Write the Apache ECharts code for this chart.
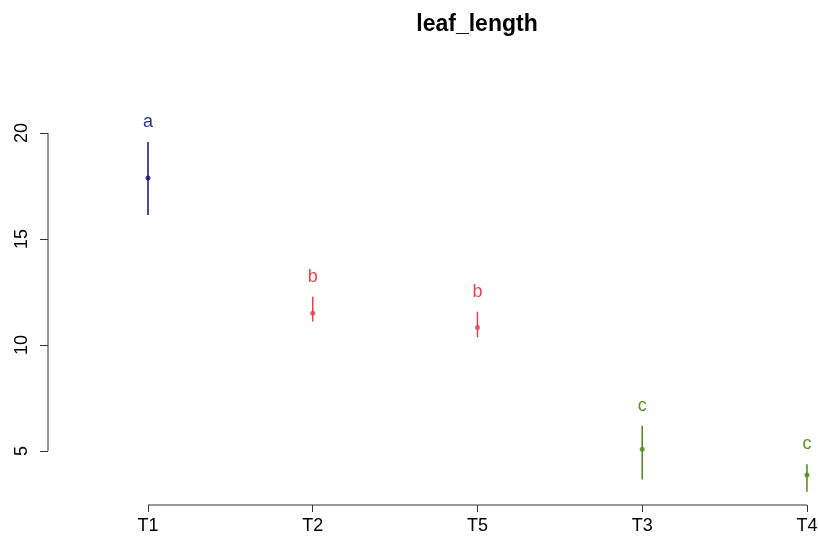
<!DOCTYPE html>
<html>
<head>
<meta charset="utf-8">
<script src="https://cdn.jsdelivr.net/npm/echarts@6/dist/echarts.min.js"></script>
<style>
html,body{margin:0;padding:0;background:#fff;}
#chart{width:818px;height:537px;}
</style>
</head>
<body>
<div id="chart"></div>
<script>
// ---- data ----
const categories = ['T1', 'T2', 'T5', 'T3', 'T4'];
const means = [17.88, 11.50, 10.83, 5.08, 3.87];
const upper = [19.58, 12.28, 11.57, 6.19, 4.37];
const lower = [16.13, 11.10, 10.36, 3.66, 3.08];
const groupLetters = ['a', 'b', 'b', 'c', 'c'];
const yTicks = [5, 10, 15, 20];
const titleText = 'leaf_length';

// ---- styles ----
const letterColors = { a: '#10107a', b: '#e0444e', c: '#4c8a12' };
const letterTextColors = { a: '#35358c', b: '#e5474f', c: '#5a9420' };
const FONT = 'Liberation Sans, Arial, sans-serif';
const X_MIN = 0.393, X_MAX = 5.067;
const Y_MIN = 2.453, Y_MAX = 23.443;
const xTickVals = categories.map((c, i) => i + 1);

const chart = echarts.init(document.getElementById('chart'));

const option = {
  backgroundColor: '#ffffff',
  animation: false,
  graphic: [{
    type: 'text',
    x: 477,
    y: 25,
    style: {
      text: titleText,
      font: 'bold 23px ' + FONT,
      fill: '#000',
      textAlign: 'center',
      textVerticalAlign: 'middle'
    }
  }],
  grid: { left: 48, right: 0, top: 60, bottom: 32, outerBoundsMode: 'none', containLabel: false },
  xAxis: {
    type: 'value',
    min: X_MIN,
    max: X_MAX,
    axisLine: { show: false },
    splitLine: { show: false },
    axisTick: { show: true, customValues: xTickVals, length: 7, lineStyle: { color: '#333', width: 1 } },
    axisLabel: {
      customValues: xTickVals,
      formatter: v => categories[Math.round(v) - 1] || '',
      margin: 12,
      fontFamily: FONT,
      fontSize: 18,
      color: '#000'
    }
  },
  yAxis: {
    type: 'value',
    min: Y_MIN,
    max: Y_MAX,
    axisLine: { show: false },
    splitLine: { show: false },
    axisTick: { show: true, customValues: yTicks, length: 8, lineStyle: { color: '#333', width: 1 } },
    axisLabel: {
      customValues: yTicks,
      rotate: 90,
      margin: 17,
      fontFamily: FONT,
      fontSize: 18,
      color: '#000'
    }
  },
  series: [
    {
      type: 'custom',
      name: 'axes',
      silent: true,
      clip: false,
      data: [[0]],
      renderItem: function (params, api) {
        const y0 = api.coord([X_MIN, yTicks[0]]);
        const y1 = api.coord([X_MIN, yTicks[yTicks.length - 1]]);
        const x0 = api.coord([xTickVals[0], Y_MIN]);
        const x1 = api.coord([xTickVals[xTickVals.length - 1], Y_MIN]);
        return {
          type: 'group',
          children: [
            { type: 'line', shape: { x1: y0[0], y1: y0[1], x2: y1[0], y2: y1[1] }, style: { stroke: '#333', lineWidth: 1 } },
            { type: 'line', shape: { x1: x0[0], y1: x0[1], x2: x1[0], y2: x1[1] }, style: { stroke: '#333', lineWidth: 1 } }
          ]
        };
      }
    },
    {
      type: 'custom',
      name: 'errorbars',
      clip: false,
      data: categories.map((c, i) => [i + 1, lower[i], upper[i], i]),
      renderItem: function (params, api) {
        const idx = api.value(3);
        const letter = groupLetters[idx];
        const lo = api.coord([api.value(0), api.value(1)]);
        const hi = api.coord([api.value(0), api.value(2)]);
        return {
          type: 'group',
          children: [
            { type: 'line', shape: { x1: lo[0], y1: lo[1], x2: hi[0], y2: hi[1] },
              style: { stroke: letterColors[letter], lineWidth: 1.5 } },
            { type: 'text', x: hi[0], y: hi[1] - 20,
              style: { text: letter, fill: letterTextColors[letter], font: '18px ' + FONT,
                       textAlign: 'center', textVerticalAlign: 'middle' } }
          ]
        };
      }
    },
    {
      type: 'scatter',
      name: 'mean',
      symbol: 'circle',
      symbolSize: 5,
      data: categories.map((c, i) => ({
        value: [i + 1, means[i]],
        itemStyle: { color: letterColors[groupLetters[i]] }
      }))
    }
  ]
};

chart.setOption(option);
</script>
</body>
</html>
